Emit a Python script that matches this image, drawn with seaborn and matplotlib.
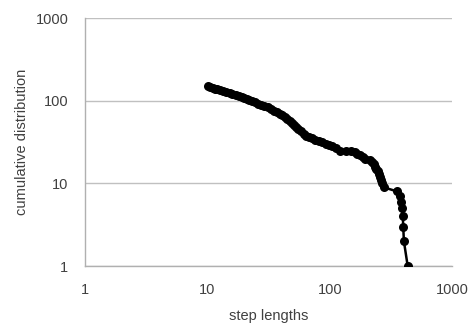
import numpy as np
import pandas as pd
import seaborn as sns
from matplotlib import pyplot as plt
from matplotlib.ticker import FixedLocator, FixedFormatter

# step lengths (x) and cumulative counts (y)
step_lengths = [10.1, 10.5, 11, 11.5, 12, 12.7, 13.5, 14.3, 15.2, 16, 17, 18, 19, 20,
                21, 22, 23, 24.5, 26, 27.5, 29, 31, 33, 35, 37, 39, 41, 43, 45, 47,
                49, 51, 53, 55, 58, 61, 64, 67, 71, 76, 81, 87, 93, 99, 105, 112,
                120, 135, 150, 160, 168, 176, 185, 195, 212, 222, 228, 235, 240,
                246, 252, 257, 262, 268, 275, 355, 375, 385, 390, 395, 398, 403, 433]
cumulative = [150, 146, 143, 140, 138, 135, 131, 127, 123, 120, 117, 114, 111, 108,
              105, 103, 100, 96, 92, 89, 86, 83, 80, 76, 73, 70, 67, 64, 61, 57,
              54, 51, 48, 46, 43, 40, 38, 36, 35, 34, 33, 32, 30, 29, 28, 26.5,
              25, 25, 25, 24, 23, 22, 21, 20, 19, 18, 17, 16, 15,
              14, 13, 12, 11, 10, 9, 8, 7, 6, 5, 4, 3, 2, 1]
tick_vals = [1, 10, 100, 1000]
tick_labels = ["1", "10", "100", "1000"]

df = pd.DataFrame({"step": step_lengths, "cum": cumulative})

sns.set_style("white")
plt.rcParams['font.family'] = ['Liberation Sans', 'DejaVu Sans']

fig = plt.figure(figsize=(4.73, 3.23), dpi=100)
ax = fig.add_axes([0.18, 0.176, 0.776, 0.768])

sns.lineplot(data=df, x="step", y="cum", sort=False, estimator=None, ax=ax,
             color="black", linewidth=1.8, marker="o", markersize=6.5,
             markeredgewidth=0, zorder=3)

ax.set_xscale("log")
ax.set_yscale("log")
ax.set_xlim(1, 1000)
ax.set_ylim(1, 1000)

ax.xaxis.set_major_locator(FixedLocator(tick_vals))
ax.xaxis.set_major_formatter(FixedFormatter(tick_labels))
ax.yaxis.set_major_locator(FixedLocator(tick_vals))
ax.yaxis.set_major_formatter(FixedFormatter(tick_labels))
ax.xaxis.set_minor_locator(FixedLocator([]))
ax.yaxis.set_minor_locator(FixedLocator([]))

txt = "#404040"
ax.tick_params(axis="both", length=0, labelsize=10.5, labelcolor=txt)
ax.tick_params(axis="x", pad=12)
ax.tick_params(axis="y", pad=12)

ax.grid(axis="y", color="#c0c0c0", linewidth=1)
ax.grid(axis="x", visible=False)
for s in ["top", "right"]:
    ax.spines[s].set_visible(False)
for s in ["left", "bottom"]:
    ax.spines[s].set_color("#b0b0b0")
    ax.spines[s].set_linewidth(1)

ax.set_xlabel("step lengths", fontsize=10.5, color=txt, labelpad=9)
ax.set_ylabel("cumulative distribution", fontsize=10.5, color=txt, labelpad=5)

fig.savefig("out.png", dpi=100)
